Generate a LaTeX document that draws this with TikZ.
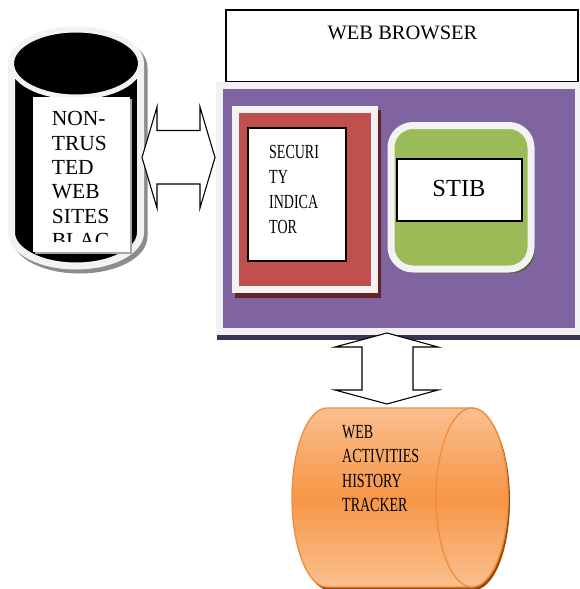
\documentclass[tikz,border=0pt]{standalone}
\usepackage{fontspec}
\setmainfont{Liberation Serif}
\newfontfamily\condserif[FakeStretch=0.70]{Liberation Serif}
\definecolor{rimgray}{HTML}{F2F2F2}
\definecolor{cylshadow}{HTML}{8C8C8C}
\definecolor{purp}{HTML}{8064A2}
\definecolor{purpdark}{HTML}{3F3151}
\definecolor{redbox}{HTML}{C0504D}
\definecolor{reddark}{HTML}{632523}
\definecolor{greenbox}{HTML}{9BBB59}
\definecolor{greendark}{HTML}{4F6228}
\definecolor{orM}{HTML}{F79646}
\definecolor{orL}{HTML}{FABF8F}
\definecolor{orLine}{HTML}{F08C3C}
\definecolor{ordark}{HTML}{984807}
\begin{document}
\begin{tikzpicture}[x=1pt,y=-1pt,
  rim/.style={draw=rimgray, line width=7pt},
  blockarrow/.style={draw=black, fill=white, line width=1.1pt, line join=miter},
  lbl/.style={inner sep=0pt, anchor=base west},
  boxline/.style={draw=black, line width=1.3pt, fill=white},
  cond/.style={font=\condserif\fontsize{20}{24}\selectfont},
  big/.style={font=\fontsize{21.5}{24}\selectfont}
]
\useasboundingbox (0,0) rectangle (579,589);

% ---------- web browser ----------
\draw[boxline] (226,10) rectangle (578,82);
\node[inner sep=0pt, anchor=base, font=\fontsize{20.5}{24}\selectfont] (wb) at (402.5,39) {WEB BROWSER};

% ---------- browser panel ----------
\fill[purpdark] (217,87) rectangle (583,340);
\draw[rim, fill=purp] (219,85.7) rectangle (578.8,331);

% security indicator
\fill[reddark] (235,110) rectangle (381,298);
\draw[rim, fill=redbox] (235.5,109) rectangle (374.5,289);
\draw[boxline, line width=1.2pt] (248,128) rectangle (346,261);
\node[lbl, cond] (s1) at (269,158) {SECURI};
\node[lbl, cond] (s2) at (269,183) {TY};
\node[lbl, cond] (s3) at (269,208) {INDICA};
\node[lbl, cond] (s4) at (269,233) {TOR};

% STIB
\fill[greendark, rounded corners=22pt] (394,129.5) rectangle (534.5,273);
\draw[rim, fill=greenbox, rounded corners=22pt] (391,125.5) rectangle (531,269);
\node[boxline, minimum width=125pt, minimum height=62pt, inner sep=0pt] (stibbox) at (459.5,190) {};
\node[inner sep=0pt, anchor=base, font=\fontsize{24.5}{28}\selectfont] (stib) at (459,196) {STIB};

% ---------- left cylinder ----------
\draw[draw=cylshadow, line width=7pt, fill=cylshadow]
  ([shift={(3.5,4)}]11.5,63.5) -- ([shift={(3.5,4)}]11.5,232.5)
  arc[start angle=180, end angle=360, x radius=64.5pt, y radius=33.5pt]
  -- ([shift={(3.5,4)}]140.5,63.5)
  arc[start angle=0, end angle=180, x radius=64.5pt, y radius=33.5pt] -- cycle;
\draw[rim, fill=black]
  (11.5,63.5) -- (11.5,232.5)
  arc[start angle=180, end angle=360, x radius=64.5pt, y radius=33.5pt]
  -- (140.5,63.5)
  arc[start angle=0, end angle=180, x radius=64.5pt, y radius=33.5pt] -- cycle;
\draw[draw=rimgray, line width=5pt, fill=black] (76,63.5) ellipse [x radius=64.5pt, y radius=33.5pt];
\fill[gray!70] (34.5,98.5) rectangle (131.5,253.5);
\fill[white] (33,97) rectangle (130,252);
\node[lbl, big] (n1) at (51.7,125.8) {NON-};
\node[lbl, big] (n2) at (51.7,150.1) {TRUS};
\node[lbl, big] (n3) at (51.7,174.4) {TED};
\node[lbl, big] (n4) at (51.7,198.7) {WEB};
\node[lbl, big] (n5) at (51.7,223) {SITES};
\begin{scope}
  \clip (33,97) rectangle (130,241);
  \node[lbl, big] (n6) at (51.7,247.3) {BLAC};
\end{scope}

% ---------- horizontal double arrow ----------
\coordinate (la) at (142,157.5);
\coordinate (ra) at (215,157.5);
\draw[blockarrow] (la) -- (157,107) -- (157,130.5) -- (200,130.5) -- (200,107) -- (ra)
  -- (200,208) -- (200,184) -- (157,184) -- (157,208) -- cycle;

% ---------- orange cylinder ----------
\fill[ordark] (329,411) -- (474,411)
  arc[start angle=90, end angle=-90, x radius=36pt, y radius=89.5pt]
  -- (329,590)
  arc[start angle=270, end angle=90, x radius=35pt, y radius=89.5pt] -- cycle;
\draw[draw=orLine, line width=1.3pt, top color=orL, bottom color=orL, middle color=orM]
  (327,408) -- (472,408)
  arc[start angle=90, end angle=-90, x radius=36pt, y radius=89.5pt]
  -- (327,587)
  arc[start angle=270, end angle=90, x radius=35pt, y radius=89.5pt] -- cycle;
\draw[draw=orLine, line width=1.3pt, top color=orL, bottom color=orL, middle color=orM]
  (472,497.5) ellipse [x radius=36pt, y radius=89.5pt];
\node[lbl, cond] (w1) at (342,438) {WEB};
\node[lbl, cond] (w2) at (342,462.5) {ACTIVITIES};
\node[lbl, cond] (w3) at (342,487) {HISTORY};
\node[lbl, cond] (w4) at (342,511.5) {TRACKER};

% ---------- vertical double arrow ----------
\coordinate (ta) at (387,333);
\coordinate (ba) at (387,404);
\draw[blockarrow] (ta) -- (438,347) -- (413,347) -- (413,390) -- (438,390) -- (ba)
  -- (335,390) -- (362,390) -- (362,347) -- (335,347) -- cycle;
\end{tikzpicture}
\end{document}
